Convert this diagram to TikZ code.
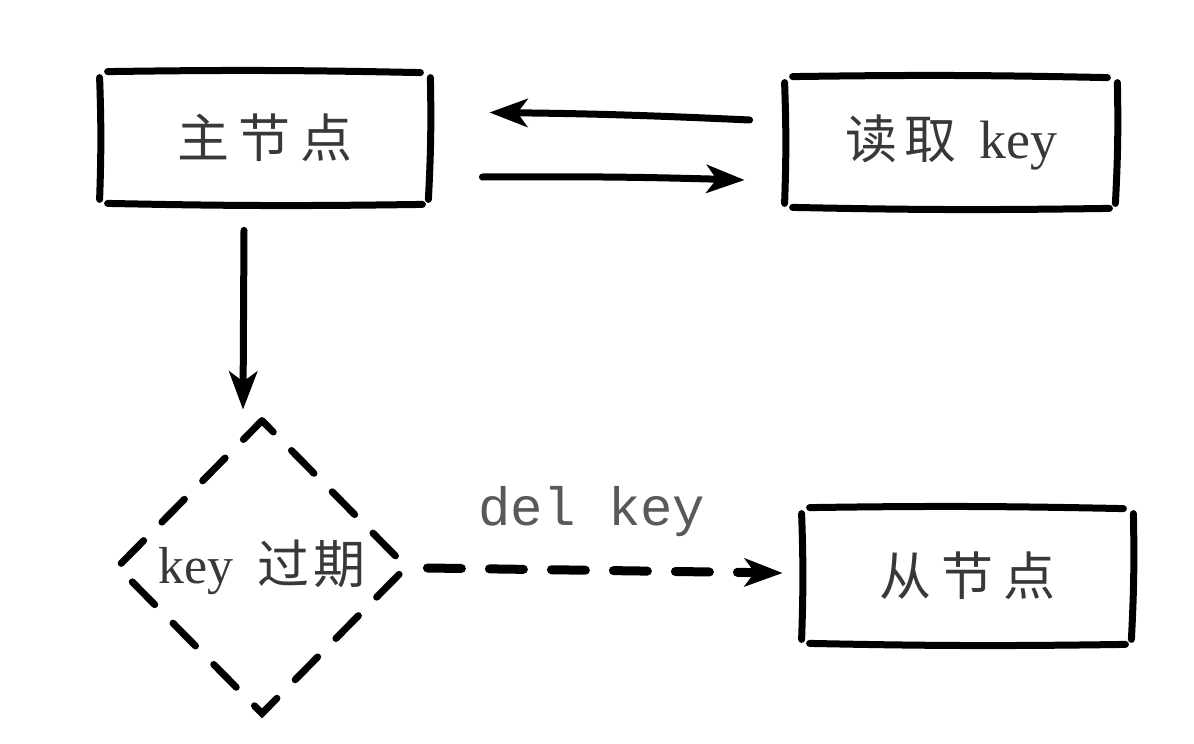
\documentclass[tikz,border=0pt]{standalone}
\usepackage{fontspec}
\setmainfont{Liberation Serif}
\setmonofont{Liberation Mono}
\newfontfamily\cjk{Noto Sans CJK SC}
\usetikzlibrary{arrows.meta,shapes.geometric,calc}
\newcommand\sketchbox[1]{%
  \draw[stroke] ($(#1.north west)+(8,0)$) to[bend left=1] ($(#1.north east)+(-10,1)$);
  \draw[stroke] ($(#1.south west)+(8,0)$) to[bend right=1] ($(#1.south east)+(-8,1)$);
  \draw[stroke] ($(#1.north west)+(0,6)$) to[bend left=2] ($(#1.south west)+(0,-4)$);
  \draw[stroke] ($(#1.north east)+(0,6)$) to[bend left=2] ($(#1.south east)+(-2,-4)$);
}
\begin{document}
\begin{tikzpicture}[x=0.5pt,y=-0.5pt,
  stroke/.style={line width=3.5pt,line cap=round,black},
  tip/.style={-{Stealth[length=19pt,width=14pt,inset=5pt]}},
  boxnode/.style={rectangle,draw=none,inner sep=0pt,text=black!78},
  cjktext/.style={font=\cjk\fontsize{26}{30}\selectfont},
  dashline/.style={line width=4.5pt,line cap=round,dash pattern=on 17pt off 14pt}]
\useasboundingbox (0,0) rectangle (1194,744);

\node[boxnode,cjktext,minimum width=165pt,minimum height=65.5pt] (main) at (265,137.5)
  {主\hspace{5pt}节\hspace{5pt}点};
\node[boxnode,minimum width=166pt,minimum height=65pt] (read) at (951,142)
  {{\cjk\fontsize{26}{30}\selectfont 读\hspace{4pt}取}\hspace{11pt}{\fontsize{27}{30}\selectfont key}};
\node[boxnode,cjktext,minimum width=165.5pt,minimum height=67.5pt] (slave) at (967.5,575.5)
  {从\hspace{5pt}节\hspace{5pt}点};
\node[diamond,aspect=1,minimum width=144pt,minimum height=146pt,inner sep=0pt,text=black!78] (exp) at (262,567)
  {{\fontsize{26}{30}\selectfont key}\hspace{12pt}{\cjk\fontsize{26}{30}\selectfont 过\hspace{2pt}期}};
\draw[line width=3.5pt,line cap=round,dash pattern=on 16pt off 13pt,dash phase=8pt]
  (exp.north) -- (exp.east) -- (exp.south) -- (exp.west) -- cycle;

\sketchbox{main}
\sketchbox{read}
\sketchbox{slave}

\node[font=\ttfamily\fontsize{27}{30}\selectfont,text=black!65] (lbl) at (592,512) {del key};

\draw[stroke,tip] ($(read.west)+(-35,-22)$) to[bend right=1] ($(main.east)+(59,-25)$);
\draw[stroke,tip] ($(main.east)+(52,39.5)$) to[bend left=1] ($(read.west)+(-40,38)$);
\draw[stroke,tip] ($(main.south)+(-21,27)$) -- ($(exp.north)+(-19,-11)$);
\draw[dashline,tip] ($(exp.east)+(21,1)$) -- ($(slave.west)+(-19,-2.5)$);
\end{tikzpicture}
\end{document}
